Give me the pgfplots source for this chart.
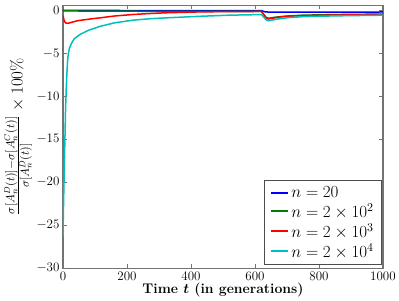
\documentclass[border=0pt]{standalone}
\usepackage{fix-cm}
\usepackage{amsmath,bm}
\usepackage{pgfplots}
\pgfplotsset{compat=1.18}
\definecolor{mblue}{rgb}{0,0,1}
\definecolor{mgreen}{rgb}{0,0.5,0}
\definecolor{mred}{rgb}{1,0,0}
\definecolor{mcyan}{rgb}{0,0.75,0.75}
\begin{document}
\begin{tikzpicture}
\begin{axis}[
  scale only axis, width=320pt, height=263pt,
  xmin=0, xmax=1000, ymin=-30, ymax=0.6,
  xtick={0,200,...,1000}, ytick={-30,-25,...,0},
  tick align=inside, xtick pos=both, ytick pos=both,
  major tick length=4pt,
  axis line style={black!55, line width=1.2pt},
  every tick/.style={black!55, line width=0.8pt},
  tick label style={font=\fontsize{13}{15}\selectfont},
  /pgf/number format/1000 sep={},
  scaled ticks=false,
  xlabel={\textbf{Time $\boldsymbol{t}$ (in generations)}},
  xlabel style={font=\fontsize{14}{16}\selectfont, yshift=4pt},
  ylabel={$\frac{\sigma[A_n^D(t)]-\sigma[A_n^C(t)]}{\sigma[A_n^D(t)]}\times 100\%$},
  ylabel style={font=\fontsize{17}{20}\selectfont, yshift=-2pt},
  legend style={at={(0.997,0.012)}, anchor=south east, draw=black!70, line width=0.8pt,
    font=\fontsize{17}{20}\selectfont, inner xsep=6pt, inner ysep=4pt, row sep=0.5pt,
    cells={anchor=west}},
]
\addlegendimage{draw=mblue, line width=1.8pt}
\addlegendentry{$n=20$}
\addlegendimage{draw=mgreen, line width=1.8pt}
\addlegendentry{$n=2\times10^2$}
\addlegendimage{draw=mred, line width=1.8pt}
\addlegendentry{$n=2\times10^3$}
\addlegendimage{draw=mcyan, line width=1.8pt}
\addlegendentry{$n=2\times10^4$}
\addplot[color=mblue, line width=1.5pt, forget plot] coordinates {(0,0) (300,-0.01) (620,-0.02) (630,-0.15) (645,-0.2) (800,-0.19) (1000,-0.18)};
\addplot[color=mgreen, line width=1.5pt, forget plot] coordinates {(0,-0.05) (100,-0.08) (300,-0.1) (620,-0.12) (628,-0.5) (636,-0.85) (645,-0.9) (660,-0.8) (700,-0.65) (750,-0.55) (850,-0.48) (1000,-0.42)};
\addplot[color=mred, line width=1.5pt, forget plot] coordinates {(0,-0.6) (3,-1.1) (6,-1.35) (10,-1.48) (14,-1.5) (20,-1.45) (30,-1.35) (45,-1.2) (64,-1.1) (90,-0.97) (116,-0.86) (160,-0.65) (219,-0.47) (270,-0.36) (323,-0.27) (428,-0.17) (520,-0.13) (620,-0.12) (628,-0.5) (635,-0.9) (642,-1.0) (650,-0.95) (670,-0.8) (700,-0.68) (750,-0.6) (850,-0.54) (1000,-0.48)};
\addplot[color=mcyan, line width=1.5pt, forget plot] coordinates {(0,-26.3) (1,-24) (2,-22) (4,-18.5) (6,-15) (8,-11.5) (10,-9.3) (12,-7.5) (14,-6.1) (16,-5.2) (20,-4.4) (27,-3.8) (35,-3.3) (53,-2.8) (80,-2.3) (116,-1.85) (160,-1.45) (219,-1.13) (270,-0.97) (323,-0.86) (428,-0.68) (520,-0.55) (620,-0.48) (628,-0.8) (635,-1.1) (642,-1.2) (650,-1.15) (670,-1.0) (700,-0.85) (750,-0.72) (850,-0.63) (1000,-0.55)};
\end{axis}
\path ([shift={(-63pt,-31pt)}]current axis.south west) rectangle ([shift={(16pt,5.3pt)}]current axis.north east);
\end{tikzpicture}
\end{document}
